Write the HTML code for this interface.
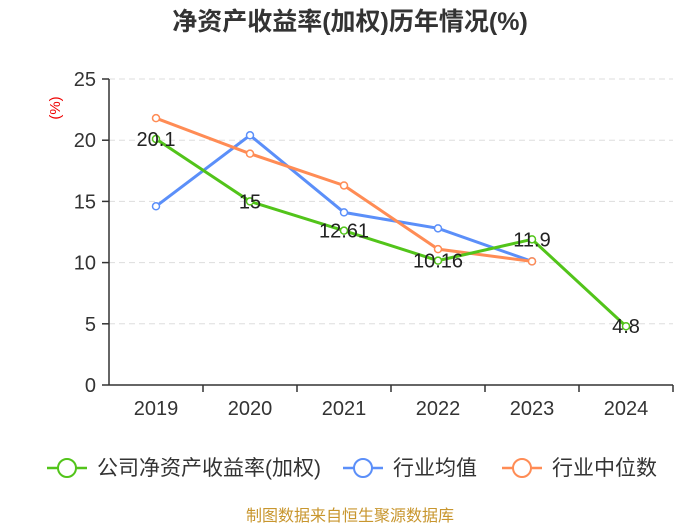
<!DOCTYPE html>
<html><head><meta charset="utf-8"><style>
body{margin:0;background:#fff;}
svg text{font-family:"Liberation Sans","Noto Sans CJK SC",sans-serif;}
</style></head><body>
<svg id="c" width="700" height="525" xmlns="http://www.w3.org/2000/svg">
<text x="350" y="30" text-anchor="middle" font-size="25" font-weight="bold" fill="#333">净资产收益率(加权)历年情况(%)</text>
<text transform="translate(60,108) rotate(-90)" text-anchor="middle" font-size="15" fill="#e00">(%)</text>
<g id="grid"></g><g id="axes"></g><g id="series"></g>
<g>
<g><line x1="47" y1="468" x2="87" y2="468" stroke="#52c41a" stroke-width="2.5"/><circle cx="67" cy="468" r="9" fill="#fff" stroke="#52c41a" stroke-width="2"/><text x="97" y="475" font-size="21" fill="#333">公司净资产收益率(加权)</text></g>
<g><line x1="343" y1="468" x2="383" y2="468" stroke="#5b8ff9" stroke-width="2.5"/><circle cx="363" cy="468" r="9" fill="#fff" stroke="#5b8ff9" stroke-width="2"/><text x="393" y="475" font-size="21" fill="#333">行业均值</text></g>
<g><line x1="502" y1="468" x2="542" y2="468" stroke="#ff8c55" stroke-width="2.5"/><circle cx="522" cy="468" r="9" fill="#fff" stroke="#ff8c55" stroke-width="2"/><text x="552" y="475" font-size="21" fill="#333">行业中位数</text></g>
</g>
<text x="350" y="521" text-anchor="middle" font-size="16" fill="#c8962e">制图数据来自恒生聚源数据库</text>
</svg>
<script>
const categories=["2019","2020","2021","2022","2023","2024"];
const companyValues=[20.1,15,12.61,10.16,11.9,4.8];
const avgValues=[14.6,20.4,14.1,12.8,10.1,null];
const medianValues=[21.8,18.9,16.3,11.1,10.1,null];
const companyLabels=["20.1","15","12.61","10.16","11.9","4.8"];
const yTicks=[0,5,10,15,20,25];
const NS="http://www.w3.org/2000/svg";
const x0=109,bw=94,yTop=79,yBot=385,yMax=25;
const xs=i=>x0+bw*(i+0.5);
const ys=v=>yBot-(v/yMax)*(yBot-yTop);
function mk(tag,attrs,parent,text){const e=document.createElementNS(NS,tag);for(const k in attrs)e.setAttribute(k,attrs[k]);if(text!==undefined)e.textContent=text;parent.appendChild(e);return e;}
const grid=document.getElementById('grid'),axes=document.getElementById('axes'),ser=document.getElementById('series');
yTicks.forEach(t=>{
 if(t>0){const l=mk('line',{x1:x0,x2:x0+bw*6,y1:ys(t),y2:ys(t),stroke:'#ddd','stroke-dasharray':'6,4'},grid);
 
 }
 mk('line',{x1:x0-7,x2:x0,y1:ys(t),y2:ys(t),stroke:'#333','stroke-width':1.5},axes);
 const tx=mk('text',{x:x0-13,y:ys(t)+7,'text-anchor':'end','font-size':20,fill:'#333'},axes,String(t));
 
 
});
mk('line',{x1:x0,x2:x0,y1:yTop,y2:yBot,stroke:'#333','stroke-width':1.5},axes);
mk('line',{x1:x0,x2:x0+bw*6,y1:yBot,y2:yBot,stroke:'#333','stroke-width':1.5},axes);
categories.forEach((c,i)=>{
 mk('line',{x1:x0+bw*(i+1),x2:x0+bw*(i+1),y1:yBot,y2:yBot+7,stroke:'#333','stroke-width':1.5},axes);
 const tx=mk('text',{x:xs(i),y:yBot+30,'text-anchor':'middle','font-size':20,fill:'#333'},axes,c);
 
 
});
function drawSeries(vals,color,name){
 const pts=vals.map((v,i)=>v==null?null:[xs(i),ys(v)]).filter(p=>p);
 const pl=mk('polyline',{points:pts.map(p=>p.join(',')).join(' '),fill:'none',stroke:color,'stroke-width':3},ser);
 
 
 pts.forEach((p,i)=>{const c=mk('circle',{cx:p[0],cy:p[1],r:3.5,fill:'#fff',stroke:color,'stroke-width':1.5},ser);
 
 });
}
drawSeries(avgValues,'#5b8ff9','industry-avg');
drawSeries(medianValues,'#ff8c55','industry-median');
drawSeries(companyValues,'#52c41a','company');
companyValues.forEach((v,i)=>{
 const t=mk('text',{x:xs(i),y:ys(v)+7,'text-anchor':'middle','font-size':20,fill:'#222'},ser,companyLabels[i]);
 
 
});
</script>
</body></html>
